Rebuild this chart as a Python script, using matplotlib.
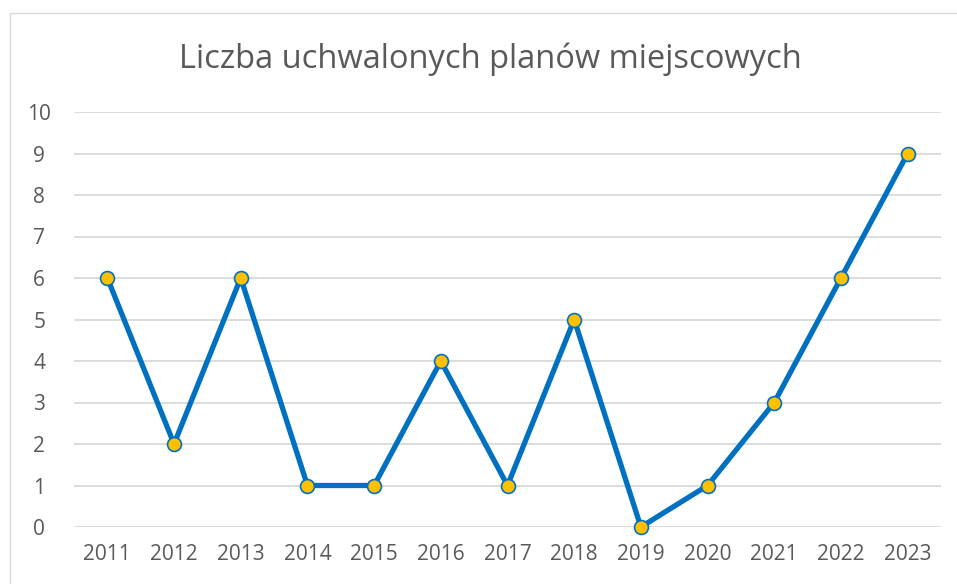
import matplotlib.pyplot as plt
import matplotlib.patches as patches

years = ['2011', '2012', '2013', '2014', '2015', '2016', '2017',
         '2018', '2019', '2020', '2021', '2022', '2023']
plans = [6, 2, 6, 1, 1, 4, 1, 5, 0, 1, 3, 6, 9]

plt.rcParams['font.family'] = ['Open Sans', 'DejaVu Sans']
text_color = '#595959'

W, H = 957, 584
fig = plt.figure(figsize=(W / 100, H / 100), dpi=100)
ax = fig.add_axes([74 / W, 57 / H, (941 - 74) / W, (527 - 112) / H])

# chart border (cropped at right and bottom like the reference)
fig.patches.append(patches.Rectangle((10 / W, -0.1), 1.1, 1.1 - 13 / H,
                                     transform=fig.transFigure, fill=False,
                                     edgecolor='#d9d9d9', linewidth=1.0))

x = list(range(len(years)))
ax.plot(x, plans, color='#0070C0', linewidth=3.8, marker='o', markersize=10,
        markerfacecolor='#FFC000', markeredgecolor='#0070C0', markeredgewidth=1.2,
        solid_joinstyle='round', zorder=3, clip_on=False)

ax.set_xlim(-0.5, len(years) - 0.5)
ax.set_ylim(0, 10)
ax.set_yticks(range(0, 11))
ax.set_xticks(x)
ax.set_xticklabels(years)
ax.grid(axis='y', color='#d9d9d9', linewidth=1.3)
ax.set_axisbelow(True)
for s in ax.spines.values():
    s.set_visible(False)
ax.tick_params(length=0, labelsize=15, colors=text_color)
ax.tick_params(axis='y', pad=25)
ax.tick_params(axis='x', pad=12)
for lab in ax.get_yticklabels():
    lab.set_horizontalalignment('center')

fig.text(490 / W, 1 - 59 / H, 'Liczba uchwalonych planów miejscowych',
         ha='center', va='center', fontsize=23.5, color=text_color)

fig.savefig('out.png', dpi=100)
